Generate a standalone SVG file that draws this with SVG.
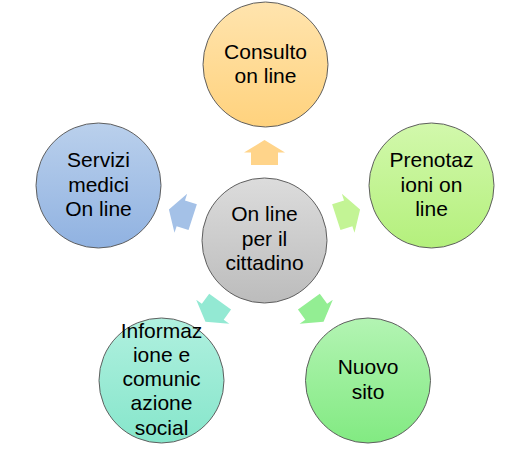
<svg xmlns="http://www.w3.org/2000/svg" width="530" height="459" viewBox="0 0 530 459">
<style>
.node{stroke:#5f5f5f;stroke-width:1}
.lbl{font-family:"Liberation Sans",Arial,sans-serif;font-size:21px;fill:#000;text-anchor:middle}
</style>
<defs>
<linearGradient id="gOr" x1="0" y1="0" x2="0" y2="1"><stop offset="0" stop-color="#FFE4AE"/><stop offset="1" stop-color="#FFD27D"/></linearGradient>
<linearGradient id="gLg" x1="0" y1="0" x2="0" y2="1"><stop offset="0" stop-color="#D2F8AC"/><stop offset="1" stop-color="#B4F07C"/></linearGradient>
<linearGradient id="gGr" x1="0" y1="0" x2="0" y2="1"><stop offset="0" stop-color="#B3F4B3"/><stop offset="1" stop-color="#82EA82"/></linearGradient>
<linearGradient id="gTe" x1="0" y1="0" x2="0" y2="1"><stop offset="0" stop-color="#B0F0DF"/><stop offset="1" stop-color="#86E6CB"/></linearGradient>
<linearGradient id="gBl" x1="0" y1="0" x2="0" y2="1"><stop offset="0" stop-color="#BAD0EC"/><stop offset="1" stop-color="#90B2E1"/></linearGradient>
<linearGradient id="gGy" x1="0" y1="0" x2="0" y2="1"><stop offset="0" stop-color="#DCDCDC"/><stop offset="1" stop-color="#BCBCBC"/></linearGradient>
<path id="arr" d="M75.5,-13.5 L88,-13.5 L88,-20.5 L100.5,0 L88,20.5 L88,13.5 L75.5,13.5 Z"/>
</defs>
<g id="connectors" transform="translate(264.5,240.5)">
<use href="#arr" transform="rotate(-90)" fill="#FFD48A"/>
<use href="#arr" transform="rotate(-18)" fill="#C3F495"/>
<use href="#arr" transform="rotate(54)" fill="#93EE93"/>
<use href="#arr" transform="rotate(126)" fill="#93E9D3"/>
<use href="#arr" transform="rotate(198)" fill="#A4C1E7"/>
</g>
<g id="center">
<circle class="node" cx="264.5" cy="240.5" r="62.5" fill="url(#gGy)"/>
<text class="lbl" x="264.5"><tspan x="264.5" y="221">On line</tspan><tspan x="264.5" y="245.5">per il</tspan><tspan x="264.5" y="270">cittadino</tspan></text>
</g>
<g id="consulto">
<circle class="node" cx="265.5" cy="64.5" r="62.5" fill="url(#gOr)"/>
<text class="lbl"><tspan x="265.5" y="58.5">Consulto</tspan><tspan x="265.5" y="83">on line</tspan></text>
</g>
<g id="prenotazioni">
<circle class="node" cx="431.5" cy="185.5" r="62.5" fill="url(#gLg)"/>
<text class="lbl"><tspan x="431.5" y="167">Prenotaz</tspan><tspan x="431.5" y="191.5">ioni on</tspan><tspan x="431.5" y="216">line</tspan></text>
</g>
<g id="nuovo">
<circle class="node" cx="368" cy="380.5" r="62.5" fill="url(#gGr)"/>
<text class="lbl"><tspan x="368" y="374">Nuovo</tspan><tspan x="368" y="398.5">sito</tspan></text>
</g>
<g id="informazione">
<circle class="node" cx="161.5" cy="380.5" r="62.5" fill="url(#gTe)"/>
<text class="lbl"><tspan x="161.5" y="338">Informaz</tspan><tspan x="161.5" y="362">ione e</tspan><tspan x="161.5" y="386">comunic</tspan><tspan x="161.5" y="410">azione</tspan><tspan x="161.5" y="434.5">social</tspan></text>
</g>
<g id="servizi">
<circle class="node" cx="98.5" cy="185.5" r="62.5" fill="url(#gBl)"/>
<text class="lbl"><tspan x="98.5" y="167">Servizi</tspan><tspan x="98.5" y="191.5">medici</tspan><tspan x="98.5" y="216">On line</tspan></text>
</g>
</svg>
